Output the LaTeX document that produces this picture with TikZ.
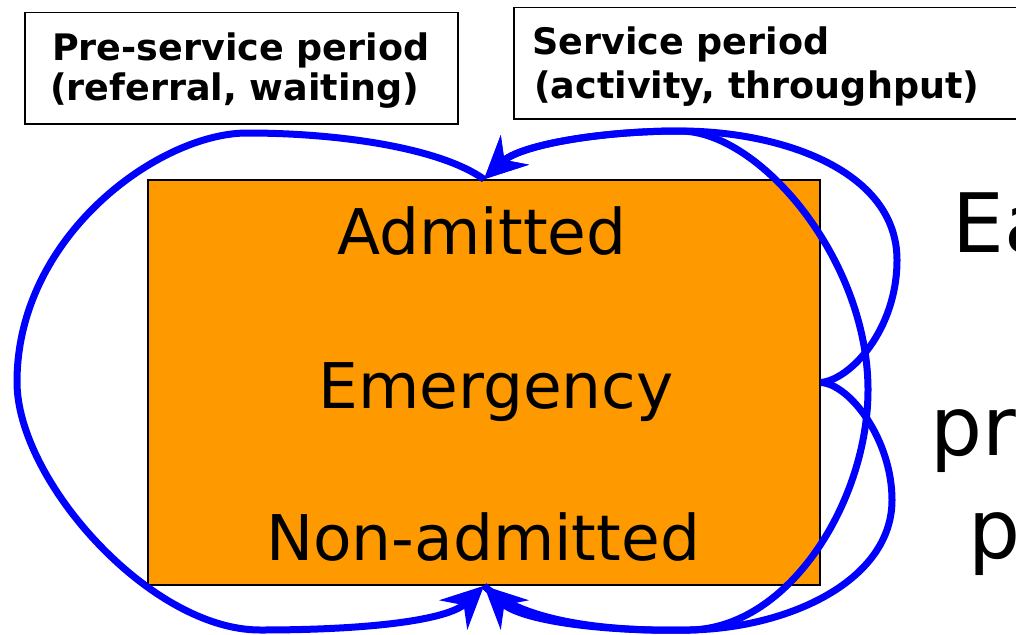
\documentclass[tikz,border=0pt]{standalone}
\usepackage{fontspec}
\setmainfont{DejaVu Sans}
\usetikzlibrary{arrows.meta}
\definecolor{boxorange}{RGB}{255,153,0}
\definecolor{flowblue}{RGB}{0,0,255}
\tikzset{
  flow/.style={draw=flowblue, line width=7pt},
  flowtip/.style={-{Stealth[length=42pt,width=40pt,inset=14pt]}},
  labelbox/.style={draw=black, line width=1.5pt, fill=white, inner sep=0pt, anchor=north west},
  labeltext/.style={anchor=base west, inner sep=0pt, font=\bfseries\fontsize{36.5}{40}\selectfont},
  boxtext/.style={anchor=base, inner sep=0pt, font=\fontsize{63}{70}\selectfont},
  sidetext/.style={anchor=base west, inner sep=0pt, font=\fontsize{82}{90}\selectfont},
  mainbox/.style={draw=black, line width=1.5pt, fill=boxorange, inner sep=0pt,
    minimum width=672pt, minimum height=405pt}
}
\begin{document}
\begin{tikzpicture}[x=1pt,y=-1pt]
\useasboundingbox (0,0) rectangle (1016,634);
\clip (0,0) rectangle (1016,634);
\fill[white] (0,0) rectangle (1016,634);

% label boxes
\node[labelbox, minimum width=433pt, minimum height=111pt] (pre) at (24,12) {};
\node[labeltext] (pre1) at (52,60) {Pre-service period};
\node[labeltext] (pre2) at (50,100) {(referral, waiting)};
\node[labelbox, minimum width=530pt, minimum height=111pt] (serv) at (513,7) {};
\node[labeltext] (serv1) at (532,55) {Service period};
\node[labeltext] (serv2) at (534,98) {(activity, throughput)};

% main box
\node[mainbox] (box) at (484,382.5) {};
\node[boxtext] (adm) at (482,254) {Admitted};
\node[boxtext] (eme) at (496,408) {Emergency};
\node[boxtext] (non) at (483,560) {Non-admitted};

% side text (cut off at the right edge, as in the reference)
\node[sidetext] (s1) at (952,252) {Ea};
\node[sidetext] (s2) at (930,455) {pr};
\node[sidetext] (s3) at (968,558) {p};

% left loop: top -> bottom
\draw[flow, flowtip] (box.north) .. controls (440,148) and (340,133) .. (247,133)
  .. controls (160,133) and (17,235) .. (17,382)
  .. controls (17,480) and (150,630) .. (260,630)
  .. controls (370,630) and (448,620) .. (box.south);

% right middle -> top
\draw[flow, flowtip] (box.east) .. controls (850,380) and (897,330) .. (897,260)
  .. controls (897,170) and (780,131) .. (680,131)
  .. controls (600,131) and (520,145) .. (box.north);

% right middle -> bottom
\draw[flow, flowtip] (box.east) .. controls (850,384) and (892,440) .. (892,500)
  .. controls (892,580) and (790,628) .. (690,630)
  .. controls (600,632) and (520,620) .. (box.south);

% bottom -> top across the right corners
\draw[flow, flowtip] (box.south) .. controls (520,620) and (600,632) .. (690,630)
  .. controls (790,628) and (868,500) .. (868,390)
  .. controls (868,260) and (760,131) .. (680,131)
  .. controls (600,131) and (520,145) .. (box.north);
\end{tikzpicture}
\end{document}
